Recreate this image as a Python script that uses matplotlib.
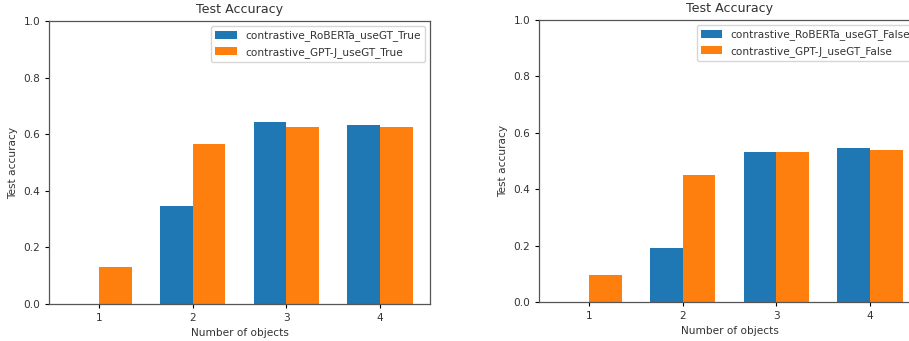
import matplotlib.pyplot as plt
import numpy as np

# number of objects on x axis
n_objects = [1, 2, 3, 4]

# left panel (useGT True)
roberta_true = [0.0, 0.348, 0.643, 0.633]
gptj_true = [0.132, 0.564, 0.627, 0.627]

# right panel (useGT False)
roberta_false = [0.0, 0.190, 0.533, 0.547]
gptj_false = [0.096, 0.451, 0.531, 0.539]

labels_true = ["contrastive_RoBERTa_useGT_True", "contrastive_GPT-J_useGT_True"]
labels_false = ["contrastive_RoBERTa_useGT_False", "contrastive_GPT-J_useGT_False"]

s = 0.76
plt.rcParams['font.size'] = 10 * s
plt.rcParams['axes.linewidth'] = 0.9
plt.rcParams['xtick.major.size'] = 3.5 * s
plt.rcParams['ytick.major.size'] = 3.5 * s
plt.rcParams['text.color'] = '#333333'
plt.rcParams['axes.labelcolor'] = '#333333'
plt.rcParams['xtick.labelcolor'] = '#333333'
plt.rcParams['ytick.labelcolor'] = '#333333'
plt.rcParams['axes.edgecolor'] = '#555555'

W, H = 909, 341
fig = plt.figure(figsize=(W / 100, H / 100), dpi=100)

def make_axes(x0, x1, y_top, y_bot):
    return fig.add_axes([x0 / W, 1 - y_bot / H, (x1 - x0) / W, (y_bot - y_top) / H])

ax1 = make_axes(49, 430, 21, 304)
ax2 = make_axes(539, 920, 20, 302)

width = 0.35
x = np.array(n_objects)

for ax, a, b, labs in [(ax1, roberta_true, gptj_true, labels_true),
                       (ax2, roberta_false, gptj_false, labels_false)]:
    ax.bar(x - width / 2, a, width, label=labs[0], color='#1f77b4')
    ax.bar(x + width / 2, b, width, label=labs[1], color='#ff7f0e')
    ax.set_xticks(x)
    ax.set_ylim(0, 1.0)
    ax.set_title("Test Accuracy", fontsize=12 * s)
    ax.set_xlabel("Number of objects")
    ax.set_ylabel("Test accuracy")
    ax.legend(loc='upper right')

fig.savefig("out.png", dpi=100)
